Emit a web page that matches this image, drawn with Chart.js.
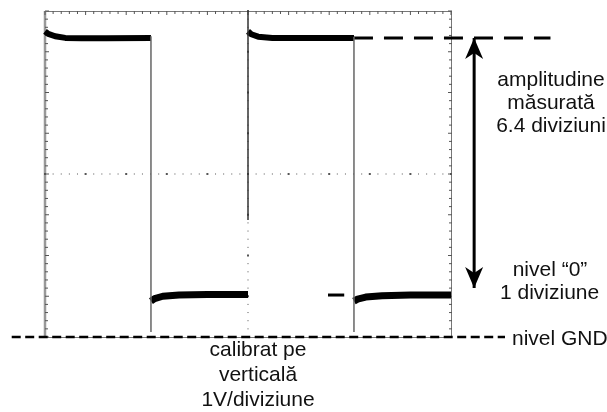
<!DOCTYPE html>
<html lang="ro">
<head>
    <meta charset="UTF-8">
    <title>Amplitudine semnal dreptunghiular</title>
    <script src="https://cdn.jsdelivr.net/npm/chart.js"></script>
    <style>
        body { margin: 0; background: #fff; }
        #wrap { width: 607px; height: 412px; }
    </style>
</head>
<body>
    <div id="wrap"><canvas id="myChart" width="607" height="412"></canvas></div>
    <script>

// screen: 10 x 8 divisions, 1V/div, GND at the bottom line
const xRange = [0, 10];
const yRange = [-4, 4];

const highLevel = 3.34;
const lowLevel = -2.97;
const gndLevel = -4;

// trace (divisions)
const pulse1X = [0, 0.08, 0.25, 0.5, 0.9, 1.5, 2.61];
const pulse1Y = [3.5, 3.44, 3.38, 3.34, 3.33, 3.33, 3.34];
const low1X = [2.61, 2.7, 2.9, 3.3, 4.0, 5.0];
const low1Y = [-3.12, -3.06, -3.0, -2.97, -2.96, -2.96];
const pulse2X = [5.0, 5.08, 5.25, 5.6, 6.4, 7.61];
const pulse2Y = [3.5, 3.43, 3.37, 3.34, 3.34, 3.34];
const low2X = [7.61, 7.7, 7.9, 8.3, 9.0, 10];
const low2Y = [-3.12, -3.07, -3.02, -2.99, -2.97, -2.97];

// fast edges
const edge1X = [2.61, 2.61], edge1Y = [3.38, -3.88];
const edge2X = [5.0, 5.0],   edge2Y = [-1.13, 4.0];
const edge3X = [7.61, 7.61], edge3Y = [3.36, -3.88];

// markers
const topMarkX = [7.61, 12.45];
const arrowX = [10.57, 10.57], arrowY = [highLevel, -2.8];
const zeroMarkX = [6.97, 7.37, 7.38, 10.05, 10.4, 10.41, 10.72, 11.16];
const zeroMarkY = [lowLevel, lowLevel, null, lowLevel, lowLevel, null, lowLevel, lowLevel];
const gndMarkX = [-0.82, 11.33];

const amplitudeLabel = ['amplitudine', 'măsurată', '6.4 diviziuni'];
const zeroLabel = ['nivel \u201c0\u201d', '1 diviziune'];
const gndLabel = 'nivel GND';
const calibLabel = ['calibrat pe', 'verticală', '1V/diviziune'];

function pts(xs, ys) {
    return xs.map((x, i) => ({ x: x, y: Array.isArray(ys) ? ys[i] : ys }));
}

function line(xs, ys, color, width, dash) {
    return {
        data: pts(xs, ys),
        showLine: true,
        borderColor: color,
        borderWidth: width,
        borderDash: dash || [],
        borderJoinStyle: 'bevel',
        pointRadius: 0,
        tension: 0,
        spanGaps: false,
        clip: false,
        borderCapStyle: 'butt'
    };
}

const scopePlugin = {
    id: 'scope',
    beforeDatasetsDraw(chart) {
        const ctx = chart.ctx;
        const xs = chart.scales.x, ys = chart.scales.y;
        const a = chart.chartArea;
        ctx.save();
        // frame
        ctx.strokeStyle = '#777';
        ctx.lineWidth = 1;
        ctx.strokeRect(a.left + 0.5, a.top + 0.5, a.right - a.left, a.bottom - a.top);
        ctx.strokeStyle = '#999';
        ctx.lineWidth = 2.5;
        ctx.beginPath(); ctx.moveTo(a.left, a.top); ctx.lineTo(a.left, a.bottom); ctx.stroke();

        // ticks every 0.2 div on the frame and dots on the centre lines
        ctx.fillStyle = '#555';
        const cy = ys.getPixelForValue(0), cx = xs.getPixelForValue(5);
        for (let i = 0; i <= 50; i++) {
            const px = xs.getPixelForValue(i * 0.2);
            const major = i % 5 === 0;
            ctx.fillRect(px - 0.5, a.top, 1, major ? 4 : 3);
            ctx.fillRect(px - (major ? 1 : 0.5), cy - (major ? 1 : 0.5), major ? 2 : 1, major ? 2 : 1);
        }
        for (let j = 0; j <= 40; j++) {
            const py = ys.getPixelForValue(-4 + j * 0.2);
            const major = j % 5 === 0;
            ctx.fillRect(a.left, py - 0.5, major ? 4 : 3, 1);
            ctx.fillRect(a.right - (major ? 3 : 2), py - 0.5, major ? 4 : 3, 1);
            ctx.fillRect(cx - (major ? 1 : 0.5), py - (major ? 1 : 0.5), major ? 2 : 1, major ? 2 : 1);
        }
        ctx.restore();
    },
    afterDatasetsDraw(chart) {
        const ctx = chart.ctx;
        const xs = chart.scales.x, ys = chart.scales.y;
        ctx.save();
        // arrow heads
        const ax = xs.getPixelForValue(arrowX[0]);
        const heads = [[ys.getPixelForValue(arrowY[0]), 1], [ys.getPixelForValue(arrowY[1]), -1]];
        ctx.fillStyle = '#000';
        heads.forEach(([ty, d]) => {
            ctx.beginPath();
            ctx.moveTo(ax, ty);
            ctx.lineTo(ax + 9, ty + 21 * d);
            ctx.lineTo(ax, ty + 15 * d);
            ctx.lineTo(ax - 9, ty + 21 * d);
            ctx.closePath();
            ctx.fill();
        });

        // texts
        ctx.fillStyle = '#111';
        ctx.font = '21px "Liberation Sans", Arial, sans-serif';
        ctx.textBaseline = 'alphabetic';
        ctx.textAlign = 'center';
        amplitudeLabel.forEach((t, i) => ctx.fillText(t, 551, 86 + i * 23));
        ctx.fillText(zeroLabel[0], 550, 276);
        calibLabel.forEach((t, i) => ctx.fillText(t, 258, 356 + i * 25));
        ctx.textAlign = 'left';
        ctx.fillText(zeroLabel[1], 500, 299);
        ctx.fillText(gndLabel, 512, 345);
        ctx.restore();
    }
};

const ctx = document.getElementById('myChart').getContext('2d');
const myChart = new Chart(ctx, {
    type: 'scatter',
    data: {
        datasets: [
            line(edge1X, edge1Y, '#666', 1.5),
            line(edge2X, edge2Y, '#333', 1.5),
            line(edge3X, edge3Y, '#666', 1.5),
            line(pulse1X, pulse1Y, '#000', 6),
            line(low1X, low1Y, '#000', 7),
            line(pulse2X, pulse2Y, '#000', 6),
            line(low2X, low2Y, '#000', 7),
            line(topMarkX, highLevel, '#000', 3, [19, 11]),
            line(arrowX, arrowY, '#000', 3),
            line(zeroMarkX, zeroMarkY, '#000', 3),
            line(gndMarkX, gndLevel, '#000', 2.5, [9, 4.5])
        ]
    },
    options: {
        responsive: false,
        animation: false,
        layout: { padding: { left: 45, top: 11, right: 156, bottom: 75 } },
        plugins: { legend: { display: false }, tooltip: { enabled: false } },
        scales: {
            x: { type: 'linear', display: false, min: xRange[0], max: xRange[1] },
            y: { type: 'linear', display: false, min: yRange[0], max: yRange[1] }
        }
    },
    plugins: [scopePlugin]
});
    </script>
</body>
</html>
